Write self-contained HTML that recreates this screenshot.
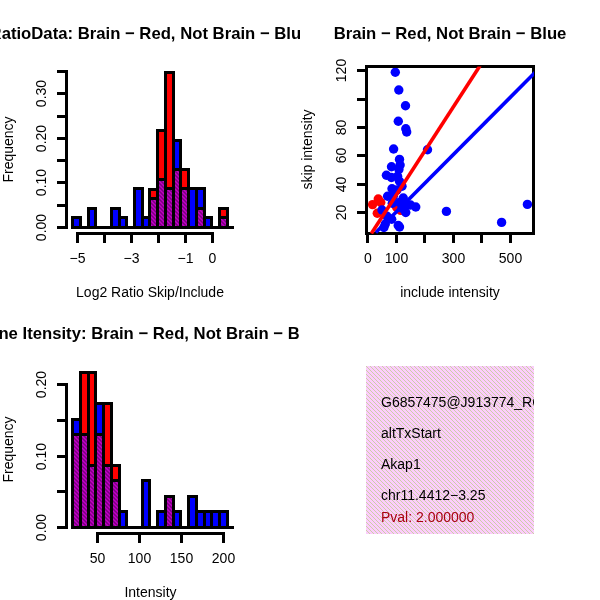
<!DOCTYPE html>
<html><head><meta charset="utf-8"><title>plot</title>
<style>
html,body{margin:0;padding:0;background:#fff;}
svg{display:block;}
text{font-family:"Liberation Sans",sans-serif;font-size:14px;fill:#000;}
.b{font-weight:bold;font-size:16.7px;}
</style></head><body>
<svg width="600" height="600" viewBox="0 0 600 600">
<defs>
<pattern id="hp" patternUnits="userSpaceOnUse" width="4" height="4">
<rect width="4" height="4" fill="#c400c8"/>
<path d="M-1,-1L5,5M-1,3L1,5M3,-1L5,1" stroke="#7a0080" stroke-width="1.5"/>
</pattern>
<pattern id="pk" patternUnits="userSpaceOnUse" width="4" height="4">
<rect width="4" height="4" fill="#fccdfc"/>
<path d="M-1,-1L5,5M-1,3L1,5M3,-1L5,1" stroke="#cdcda8" stroke-width="1" shape-rendering="crispEdges"/>
</pattern>
<clipPath id="c1"><rect x="0" y="0" width="300" height="300"/></clipPath>
<clipPath id="c3"><rect x="0" y="300" width="298.8" height="300"/></clipPath>
<clipPath id="c2"><rect x="366.5" y="66.5" width="167.5" height="167.5"/></clipPath>
<clipPath id="c4"><rect x="366" y="366" width="168" height="168"/></clipPath>
</defs>
<rect width="600" height="600" fill="#fff"/>

<g shape-rendering="crispEdges">
<rect x="71" y="226" width="163" height="3" fill="#000"/>
<rect x="71" y="216" width="11" height="13" fill="#000"/>
<rect x="74" y="219" width="5" height="7" fill="#0000ff"/>
<rect x="87" y="207" width="10" height="22" fill="#000"/>
<rect x="90" y="210" width="4" height="16" fill="#0000ff"/>
<rect x="110" y="207" width="11" height="22" fill="#000"/>
<rect x="113" y="210" width="5" height="16" fill="#0000ff"/>
<rect x="118" y="216" width="10" height="13" fill="#000"/>
<rect x="121" y="219" width="4" height="7" fill="#0000ff"/>
<rect x="133" y="187" width="11" height="42" fill="#000"/>
<rect x="136" y="190" width="5" height="36" fill="#0000ff"/>
<rect x="141" y="216" width="10" height="13" fill="#000"/>
<rect x="144" y="219" width="4" height="7" fill="#0000ff"/>
<rect x="148" y="188" width="11" height="41" fill="#000"/>
<rect x="151" y="191" width="5" height="35" fill="#ff0000"/>
<rect x="148" y="197" width="11" height="32" fill="#000"/>
<rect x="151" y="200" width="5" height="26" fill="url(#hp)"/>
<rect x="156" y="129" width="11" height="100" fill="#000"/>
<rect x="159" y="132" width="5" height="94" fill="#ff0000"/>
<rect x="156" y="178" width="11" height="51" fill="#000"/>
<rect x="159" y="181" width="5" height="45" fill="url(#hp)"/>
<rect x="164" y="71" width="11" height="158" fill="#000"/>
<rect x="167" y="74" width="5" height="152" fill="#ff0000"/>
<rect x="164" y="187" width="11" height="42" fill="#000"/>
<rect x="167" y="190" width="5" height="36" fill="url(#hp)"/>
<rect x="172" y="139" width="10" height="90" fill="#000"/>
<rect x="175" y="142" width="4" height="84" fill="#0000ff"/>
<rect x="172" y="168" width="10" height="61" fill="#000"/>
<rect x="175" y="171" width="4" height="55" fill="url(#hp)"/>
<rect x="179" y="168" width="11" height="61" fill="#000"/>
<rect x="182" y="171" width="5" height="55" fill="#ff0000"/>
<rect x="179" y="187" width="11" height="42" fill="#000"/>
<rect x="182" y="190" width="5" height="36" fill="url(#hp)"/>
<rect x="187" y="187" width="11" height="42" fill="#000"/>
<rect x="190" y="190" width="5" height="36" fill="#0000ff"/>
<rect x="195" y="187" width="11" height="42" fill="#000"/>
<rect x="198" y="190" width="5" height="36" fill="#0000ff"/>
<rect x="195" y="207" width="11" height="22" fill="#000"/>
<rect x="198" y="210" width="5" height="16" fill="url(#hp)"/>
<rect x="203" y="216" width="10" height="13" fill="#000"/>
<rect x="206" y="219" width="4" height="7" fill="#0000ff"/>
<rect x="218" y="207" width="11" height="22" fill="#000"/>
<rect x="221" y="210" width="5" height="16" fill="#ff0000"/>
<rect x="218" y="216" width="11" height="13" fill="#000"/>
<rect x="221" y="219" width="5" height="7" fill="url(#hp)"/>
</g>
<g shape-rendering="crispEdges">
<rect x="65" y="70" width="3" height="159" fill="#000"/>
<rect x="57" y="226" width="11" height="3" fill="#000"/>
<rect x="57" y="204" width="11" height="3" fill="#000"/>
<rect x="57" y="181" width="11" height="3" fill="#000"/>
<rect x="57" y="159" width="11" height="3" fill="#000"/>
<rect x="57" y="137" width="11" height="3" fill="#000"/>
<rect x="57" y="115" width="11" height="3" fill="#000"/>
<rect x="57" y="92" width="11" height="3" fill="#000"/>
<rect x="57" y="70" width="11" height="3" fill="#000"/>
<rect x="76" y="232" width="138" height="3" fill="#000"/>
<rect x="76" y="232" width="3" height="11" fill="#000"/>
<rect x="103" y="232" width="3" height="11" fill="#000"/>
<rect x="130" y="232" width="3" height="11" fill="#000"/>
<rect x="157" y="232" width="3" height="11" fill="#000"/>
<rect x="184" y="232" width="3" height="11" fill="#000"/>
<rect x="211" y="232" width="3" height="11" fill="#000"/>
</g>
<g shape-rendering="crispEdges">
<rect x="71" y="526" width="163" height="3" fill="#000"/>
<rect x="71" y="418" width="11" height="111" fill="#000"/>
<rect x="74" y="421" width="5" height="105" fill="#0000ff"/>
<rect x="71" y="433" width="11" height="96" fill="#000"/>
<rect x="74" y="436" width="5" height="90" fill="url(#hp)"/>
<rect x="79" y="371" width="11" height="158" fill="#000"/>
<rect x="82" y="374" width="5" height="152" fill="#ff0000"/>
<rect x="79" y="433" width="11" height="96" fill="#000"/>
<rect x="82" y="436" width="5" height="90" fill="url(#hp)"/>
<rect x="87" y="371" width="10" height="158" fill="#000"/>
<rect x="90" y="374" width="4" height="152" fill="#ff0000"/>
<rect x="87" y="464" width="10" height="65" fill="#000"/>
<rect x="90" y="467" width="4" height="59" fill="url(#hp)"/>
<rect x="94" y="402" width="11" height="127" fill="#000"/>
<rect x="97" y="405" width="5" height="121" fill="#0000ff"/>
<rect x="94" y="433" width="11" height="96" fill="#000"/>
<rect x="97" y="436" width="5" height="90" fill="url(#hp)"/>
<rect x="102" y="402" width="11" height="127" fill="#000"/>
<rect x="105" y="405" width="5" height="121" fill="#ff0000"/>
<rect x="102" y="464" width="11" height="65" fill="#000"/>
<rect x="105" y="467" width="5" height="59" fill="url(#hp)"/>
<rect x="110" y="464" width="11" height="65" fill="#000"/>
<rect x="113" y="467" width="5" height="59" fill="#ff0000"/>
<rect x="110" y="479" width="11" height="50" fill="#000"/>
<rect x="113" y="482" width="5" height="44" fill="url(#hp)"/>
<rect x="118" y="510" width="10" height="19" fill="#000"/>
<rect x="121" y="513" width="4" height="13" fill="#0000ff"/>
<rect x="141" y="479" width="10" height="50" fill="#000"/>
<rect x="144" y="482" width="4" height="44" fill="#0000ff"/>
<rect x="156" y="510" width="11" height="19" fill="#000"/>
<rect x="159" y="513" width="5" height="13" fill="#0000ff"/>
<rect x="164" y="495" width="11" height="34" fill="#000"/>
<rect x="167" y="498" width="5" height="28" fill="#0000ff"/>
<rect x="164" y="495" width="11" height="34" fill="#000"/>
<rect x="167" y="498" width="5" height="28" fill="url(#hp)"/>
<rect x="172" y="510" width="10" height="19" fill="#000"/>
<rect x="175" y="513" width="4" height="13" fill="#0000ff"/>
<rect x="187" y="495" width="11" height="34" fill="#000"/>
<rect x="190" y="498" width="5" height="28" fill="#0000ff"/>
<rect x="195" y="510" width="11" height="19" fill="#000"/>
<rect x="198" y="513" width="5" height="13" fill="#0000ff"/>
<rect x="203" y="510" width="10" height="19" fill="#000"/>
<rect x="206" y="513" width="4" height="13" fill="#0000ff"/>
<rect x="210" y="510" width="11" height="19" fill="#000"/>
<rect x="213" y="513" width="5" height="13" fill="#0000ff"/>
<rect x="218" y="510" width="11" height="19" fill="#000"/>
<rect x="221" y="513" width="5" height="13" fill="#0000ff"/>
</g>
<g shape-rendering="crispEdges">
<rect x="65" y="383" width="3" height="146" fill="#000"/>
<rect x="57" y="526" width="11" height="3" fill="#000"/>
<rect x="57" y="490" width="11" height="3" fill="#000"/>
<rect x="57" y="455" width="11" height="3" fill="#000"/>
<rect x="57" y="419" width="11" height="3" fill="#000"/>
<rect x="57" y="383" width="11" height="3" fill="#000"/>
<rect x="96" y="532" width="129" height="3" fill="#000"/>
<rect x="96" y="532" width="3" height="11" fill="#000"/>
<rect x="138" y="532" width="3" height="11" fill="#000"/>
<rect x="180" y="532" width="3" height="11" fill="#000"/>
<rect x="222" y="532" width="3" height="11" fill="#000"/>
</g>
<g clip-path="url(#c2)">
<circle cx="378.25" cy="199" r="4.7" fill="#ff0000"/>
<circle cx="372.6" cy="204.6" r="4.7" fill="#ff0000"/>
<circle cx="377.3" cy="213.2" r="4.7" fill="#ff0000"/>
<circle cx="380.75" cy="202.5" r="4.7" fill="#ff0000"/>
<circle cx="396.6" cy="207.3" r="4.7" fill="#ff0000"/>
<circle cx="400.75" cy="210.4" r="4.7" fill="#ff0000"/>
<circle cx="395.3" cy="72.2" r="4.7" fill="#0000ff"/>
<circle cx="398.8" cy="90" r="4.7" fill="#0000ff"/>
<circle cx="405.5" cy="105.8" r="4.7" fill="#0000ff"/>
<circle cx="398.3" cy="121.2" r="4.7" fill="#0000ff"/>
<circle cx="405.8" cy="128.7" r="4.7" fill="#0000ff"/>
<circle cx="406.7" cy="132" r="4.7" fill="#0000ff"/>
<circle cx="393.6" cy="149" r="4.7" fill="#0000ff"/>
<circle cx="427.5" cy="149.8" r="4.7" fill="#0000ff"/>
<circle cx="399.5" cy="159.4" r="4.7" fill="#0000ff"/>
<circle cx="400.1" cy="165" r="4.7" fill="#0000ff"/>
<circle cx="391.5" cy="166.7" r="4.7" fill="#0000ff"/>
<circle cx="398.9" cy="169.4" r="4.7" fill="#0000ff"/>
<circle cx="386.4" cy="175.25" r="4.7" fill="#0000ff"/>
<circle cx="391.4" cy="177.5" r="4.7" fill="#0000ff"/>
<circle cx="397.6" cy="176.25" r="4.7" fill="#0000ff"/>
<circle cx="399.5" cy="181.25" r="4.7" fill="#0000ff"/>
<circle cx="392" cy="188.75" r="4.7" fill="#0000ff"/>
<circle cx="402" cy="186.25" r="4.7" fill="#0000ff"/>
<circle cx="397" cy="190" r="4.7" fill="#0000ff"/>
<circle cx="387.6" cy="196.25" r="4.7" fill="#0000ff"/>
<circle cx="393.25" cy="196.25" r="4.7" fill="#0000ff"/>
<circle cx="403.25" cy="198" r="4.7" fill="#0000ff"/>
<circle cx="399.5" cy="202.5" r="4.7" fill="#0000ff"/>
<circle cx="382" cy="210" r="4.7" fill="#0000ff"/>
<circle cx="405.75" cy="205" r="4.7" fill="#0000ff"/>
<circle cx="415.75" cy="207" r="4.7" fill="#0000ff"/>
<circle cx="410.5" cy="205" r="4.7" fill="#0000ff"/>
<circle cx="405.75" cy="212.5" r="4.7" fill="#0000ff"/>
<circle cx="387" cy="216.25" r="4.7" fill="#0000ff"/>
<circle cx="385.3" cy="224" r="4.7" fill="#0000ff"/>
<circle cx="383.9" cy="227.5" r="4.7" fill="#0000ff"/>
<circle cx="398.25" cy="225.5" r="4.7" fill="#0000ff"/>
<circle cx="391.7" cy="219.2" r="4.7" fill="#0000ff"/>
<circle cx="399.5" cy="227" r="4.7" fill="#0000ff"/>
<circle cx="392.3" cy="203.3" r="4.7" fill="#0000ff"/>
<circle cx="402" cy="208.3" r="4.7" fill="#0000ff"/>
<circle cx="446.4" cy="211.4" r="4.7" fill="#0000ff"/>
<circle cx="501.6" cy="222.4" r="4.7" fill="#0000ff"/>
<circle cx="527.4" cy="204.4" r="4.7" fill="#0000ff"/>
</g>
<g shape-rendering="crispEdges">
<rect x="365" y="65" width="170" height="3" fill="#000"/>
<rect x="365" y="232" width="170" height="3" fill="#000"/>
<rect x="365" y="65" width="3" height="170" fill="#000"/>
<rect x="532" y="65" width="3" height="170" fill="#000"/>
<rect x="357" y="69" width="8" height="3" fill="#000"/>
<rect x="357" y="98" width="8" height="3" fill="#000"/>
<rect x="357" y="126" width="8" height="3" fill="#000"/>
<rect x="357" y="154" width="8" height="3" fill="#000"/>
<rect x="357" y="183" width="8" height="3" fill="#000"/>
<rect x="357" y="211" width="8" height="3" fill="#000"/>
<rect x="366" y="235" width="3" height="8" fill="#000"/>
<rect x="395" y="235" width="3" height="8" fill="#000"/>
<rect x="423" y="235" width="3" height="8" fill="#000"/>
<rect x="452" y="235" width="3" height="8" fill="#000"/>
<rect x="480" y="235" width="3" height="8" fill="#000"/>
<rect x="509" y="235" width="3" height="8" fill="#000"/>
</g>
<g clip-path="url(#c2)">
<line x1="375.8" y1="232.5" x2="535.5" y2="72" stroke="#0000ff" stroke-width="3.6"/>
<line x1="371.35" y1="233.5" x2="480.15" y2="65.5" stroke="#ff0000" stroke-width="3.6"/>
</g>
<rect x="366" y="366" width="168" height="168" fill="url(#pk)"/>
<g clip-path="url(#c4)">
<text x="381" y="407" fill="#000" style="fill:#000">G6857475@J913774_RC</text>
<text x="381" y="438.3" fill="#000" style="fill:#000">altTxStart</text>
<text x="381" y="468.5" fill="#000" style="fill:#000">Akap1</text>
<text x="381" y="499.8" fill="#000" style="fill:#000">chr11.4412−3.25</text>
<text x="381" y="522.4" fill="#a80010" style="fill:#a80010">Pval: 2.000000</text>
</g>
<g clip-path="url(#c1)"><text class="b" x="150" y="38.8" text-anchor="middle">RatioData: Brain − Red, Not Brain − Blue</text></g>
<text class="b" x="450" y="38.8" text-anchor="middle">Brain − Red, Not Brain − Blue</text>
<g clip-path="url(#c3)"><text class="b" x="150" y="338.8" text-anchor="middle">Gene Itensity: Brain − Red, Not Brain − Blue</text></g>
<text x="77.5" y="262.8" text-anchor="middle">−5</text>
<text x="131.5" y="262.8" text-anchor="middle">−3</text>
<text x="185.5" y="262.8" text-anchor="middle">−1</text>
<text x="212.5" y="262.8" text-anchor="middle">0</text>
<text x="150" y="296.5" text-anchor="middle">Log2 Ratio Skip/Include</text>
<text transform="translate(46,227.5) rotate(-90)" text-anchor="middle">0.00</text>
<text transform="translate(46,182.5) rotate(-90)" text-anchor="middle">0.10</text>
<text transform="translate(46,138.5) rotate(-90)" text-anchor="middle">0.20</text>
<text transform="translate(46,93.5) rotate(-90)" text-anchor="middle">0.30</text>
<text transform="translate(12.8,149.5) rotate(-90)" text-anchor="middle">Frequency</text>
<text x="367.8" y="262.8" text-anchor="middle">0</text>
<text x="396.5" y="262.8" text-anchor="middle">100</text>
<text x="453.5" y="262.8" text-anchor="middle">300</text>
<text x="510.5" y="262.8" text-anchor="middle">500</text>
<text x="450" y="296.5" text-anchor="middle">include intensity</text>
<text transform="translate(346,212.5) rotate(-90)" text-anchor="middle">20</text>
<text transform="translate(346,184.5) rotate(-90)" text-anchor="middle">40</text>
<text transform="translate(346,155.5) rotate(-90)" text-anchor="middle">60</text>
<text transform="translate(346,127.5) rotate(-90)" text-anchor="middle">80</text>
<text transform="translate(346,70.5) rotate(-90)" text-anchor="middle">120</text>
<text transform="translate(312.3,149.5) rotate(-90)" text-anchor="middle">skip intensity</text>
<text x="97.5" y="562.8" text-anchor="middle">50</text>
<text x="139.5" y="562.8" text-anchor="middle">100</text>
<text x="181.5" y="562.8" text-anchor="middle">150</text>
<text x="223.5" y="562.8" text-anchor="middle">200</text>
<text x="150.5" y="596.6" text-anchor="middle">Intensity</text>
<text transform="translate(46,527.5) rotate(-90)" text-anchor="middle">0.00</text>
<text transform="translate(46,456.5) rotate(-90)" text-anchor="middle">0.10</text>
<text transform="translate(46,384.5) rotate(-90)" text-anchor="middle">0.20</text>
<text transform="translate(12.8,449.5) rotate(-90)" text-anchor="middle">Frequency</text>
</svg></body></html>
